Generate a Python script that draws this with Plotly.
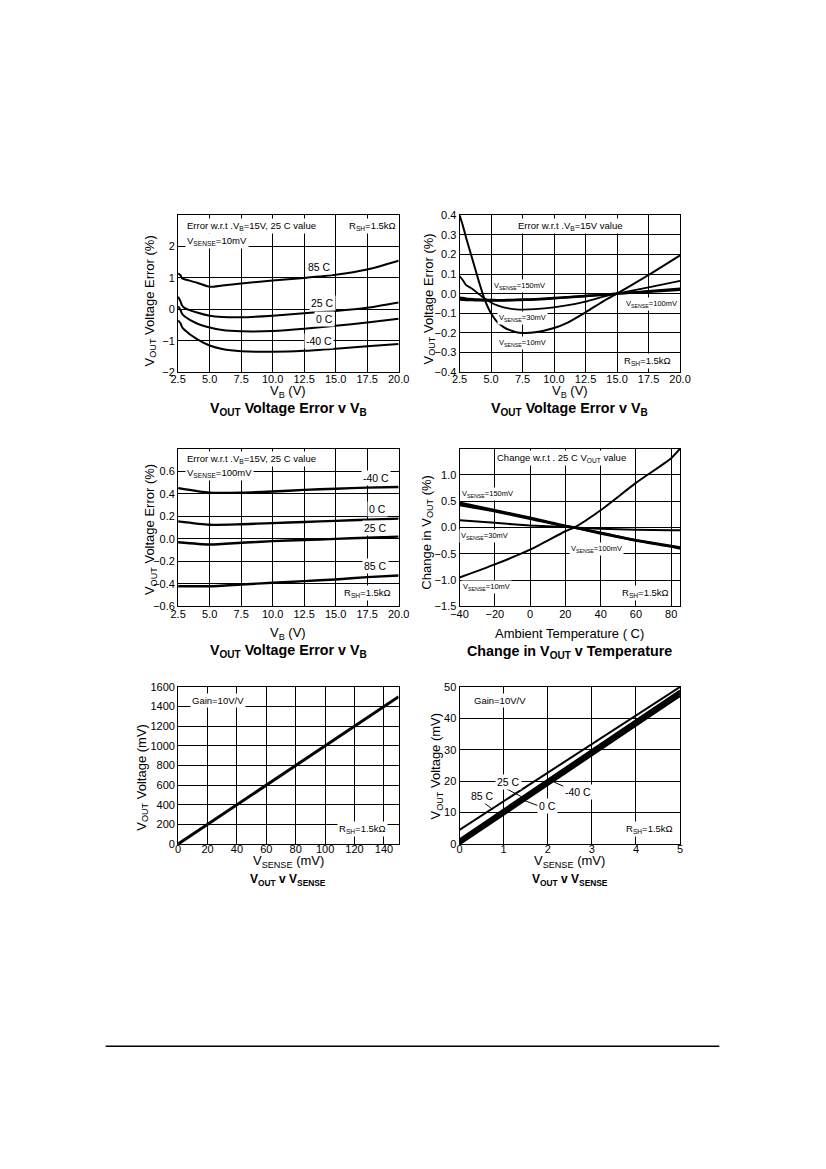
import plotly.graph_objects as go

W, H = 826, 1169
FONT = "Liberation Sans, Arial, sans-serif"

# ---------------- data ----------------
# Plot 1: VOUT error vs VB, VSENSE=10mV
vb1 = [2.5, 2.7, 2.8, 3.0, 4.0, 5.0, 6.0, 7.5, 10.0, 12.5, 15.0, 17.5, 20.0]
p1_85 = [1.15, 1.08, 0.99, 0.96, 0.85, 0.72, 0.76, 0.82, 0.92, 1.00, 1.10, 1.27, 1.55]
p1_25 = [0.40, 0.25, 0.13, 0.05, -0.10, -0.20, -0.24, -0.25, -0.20, -0.12, -0.05, 0.05, 0.22]
p1_0 = [0.10, -0.03, -0.13, -0.22, -0.45, -0.58, -0.66, -0.70, -0.69, -0.62, -0.52, -0.42, -0.30]
p1_m40 = [-0.35, -0.45, -0.55, -0.65, -0.95, -1.15, -1.26, -1.33, -1.35, -1.32, -1.25, -1.17, -1.10]

# Plot 2: VOUT error vs VB for several VSENSE
vb2 = [2.5, 2.75, 3.0, 3.5, 4.0, 4.5, 5.0, 5.5, 6.0, 6.5, 7.0, 7.5, 8.5, 10.0, 11.0, 12.5, 14.0, 15.0, 17.5, 20.0]
p2_10 = [0.40, 0.35, 0.29, 0.18, 0.07, -0.03, -0.10, -0.145, -0.17, -0.186, -0.196, -0.20, -0.197, -0.175, -0.15, -0.095, -0.035, 0.0, 0.095, 0.195]
p2_30 = [0.09, 0.07, 0.045, 0.025, 0.0, -0.025, -0.045, -0.06, -0.07, -0.076, -0.08, -0.081, -0.079, -0.07, -0.06, -0.04, -0.014, 0.0, 0.032, 0.065]
p2_150 = [-0.02, -0.022, -0.025, -0.028, -0.03, -0.031, -0.032, -0.033, -0.033, -0.032, -0.031, -0.03, -0.028, -0.022, -0.018, -0.012, -0.005, 0.0, 0.012, 0.025]
p2_100 = [-0.03, -0.031, -0.032, -0.033, -0.034, -0.035, -0.035, -0.035, -0.035, -0.034, -0.033, -0.032, -0.03, -0.024, -0.019, -0.012, -0.005, 0.0, 0.01, 0.02]

# Plot 3: VOUT error vs VB, VSENSE=100mV
vb3 = [2.5, 5.0, 7.5, 10.0, 12.5, 15.0, 17.5, 20.0]
p3_m40 = [0.45, 0.41, 0.41, 0.42, 0.435, 0.445, 0.455, 0.46]
p3_0 = [0.155, 0.125, 0.13, 0.14, 0.15, 0.16, 0.17, 0.18]
p3_25 = [-0.03, -0.05, -0.035, -0.02, -0.01, 0.0, 0.01, 0.02]
p3_85 = [-0.42, -0.42, -0.405, -0.39, -0.375, -0.36, -0.34, -0.325]

# Plot 4: change in VOUT vs temperature
temp4 = [-40, -20, 0, 20, 25, 40, 60, 80, 85]
p4_10 = [-0.95, -0.70, -0.42, -0.07, 0.0, 0.33, 0.85, 1.32, 1.50]
p4_150 = [0.47, 0.33, 0.185, 0.03, 0.0, -0.11, -0.24, -0.35, -0.38]
p4_100 = [0.43, 0.31, 0.17, 0.025, 0.0, -0.10, -0.245, -0.36, -0.395]
p4_30 = [0.14, 0.09, 0.04, 0.01, 0.0, -0.02, -0.04, -0.05, -0.05]

# Plot 5: VOUT vs VSENSE (0-150mV)
vs5 = [0, 150]
vo5 = [0, 1500]

# Plot 6: VOUT vs VSENSE (0-5mV) by temperature
vs6 = [0, 5]
p6_85 = [4.5, 50.0]
p6_25 = [1.4, 48.8]
p6_0 = [0.7, 48.0]
p6_m40 = [0.0, 47.2]

# tick values
x_vb_ticks = [2.5, 5.0, 7.5, 10.0, 12.5, 15.0, 17.5, 20.0]
y1_ticks = [-2, -1, 0, 1, 2]
y2_ticks = [-0.4, -0.3, -0.2, -0.1, 0.0, 0.1, 0.2, 0.3, 0.4]
y3_ticks = [-0.6, -0.4, -0.2, 0.0, 0.2, 0.4, 0.6]
x4_ticks = [-40, -20, 0, 20, 40, 60, 80]
y4_ticks = [-1.5, -1.0, -0.5, 0.0, 0.5, 1.0]
x5_ticks = [0, 20, 40, 60, 80, 100, 120, 140]
y5_ticks = [0, 200, 400, 600, 800, 1000, 1200, 1400, 1600]
x6_ticks = [0, 1, 2, 3, 4, 5]
y6_ticks = [0, 10, 20, 30, 40, 50]


def px(x):
    return x / W


def py(y):
    return 1 - y / H


fig = go.Figure()


def line(x, y, ax, width=2.0):
    n = "" if ax == 1 else str(ax)
    fig.add_trace(go.Scatter(x=x, y=y, mode="lines", xaxis="x" + n, yaxis="y" + n,
                             line=dict(color="black", width=width, shape="spline", smoothing=0.6),
                             hoverinfo="skip", showlegend=False))


for s in (p1_85, p1_25, p1_0, p1_m40):
    line(vb1, s, 1)
for s, w in ((p2_10, 2.0), (p2_30, 1.8), (p2_150, 2.4), (p2_100, 2.4)):
    line(vb2, s, 2, w)
for s in (p3_m40, p3_0, p3_25, p3_85):
    line(vb3, s, 3, 2.4)
for s, w in ((p4_10, 2.0), (p4_150, 2.6), (p4_100, 2.6), (p4_30, 2.0)):
    line(temp4, s, 4, w)
line(vs5, vo5, 5, 3.0)
for s, w in ((p6_85, 2.0), (p6_25, 2.6), (p6_0, 2.6), (p6_m40, 2.6)):
    line(vs6, s, 6, w)

LX = [173.3 / W, 399.3 / W]
RX = [461.7 / W, 687.7 / W]
R1 = [py(370), py(211.3)]
R2 = [py(606.7), py(447.3)]
R3 = [py(846.7), py(688)]


def axis(domain, anchor, rng, ticks, fmt=None, standoff=0):
    d = dict(domain=domain, anchor=anchor, range=rng, tickvals=ticks,
             showline=True, linecolor="black", linewidth=1, mirror=True,
             showgrid=True, gridcolor="black", gridwidth=1, zeroline=False,
             ticks="", ticklabelstandoff=standoff,
             tickfont=dict(family=FONT, size=11, color="black"), fixedrange=True)
    if fmt:
        d["tickformat"] = fmt
    return d


fig.update_layout(
    width=W, height=H, autosize=False, margin=dict(l=0, r=0, t=0, b=0),
    paper_bgcolor="white", plot_bgcolor="white", showlegend=False,
    font=dict(family=FONT, color="black"),
    xaxis=axis(LX, "y", [2.5, 20], x_vb_ticks, ".1f", -3),
    yaxis=axis(R1, "x", [-2, 3], y1_ticks),
    xaxis2=axis(RX, "y2", [2.5, 20], x_vb_ticks, ".1f", -3),
    yaxis2=axis(R1, "x2", [-0.4, 0.4], y2_ticks, ".1f"),
    xaxis3=axis(LX, "y3", [2.5, 20], x_vb_ticks, ".1f", -3),
    yaxis3=axis(R2, "x3", [-0.6, 0.8], y3_ticks, ".1f"),
    xaxis4=axis(RX, "y4", [-40, 85], x4_ticks, None, -3),
    yaxis4=axis(R2, "x4", [-1.5, 1.5], y4_ticks, ".1f"),
    xaxis5=axis(LX, "y5", [0, 150], x5_ticks, None, -5),
    yaxis5=axis(R3, "x5", [0, 1600], y5_ticks),
    xaxis6=axis(RX, "y6", [0, 5], x6_ticks, None, -5),
    yaxis6=axis(R3, "x6", [0, 50], y6_ticks),
)

ann = []


def note(text, x, y, size=9.5, xanchor="center", bg="white", bold=False, angle=0):
    ann.append(dict(text=("<b>%s</b>" % text) if bold else text, x=px(x), y=py(y),
                    xref="paper", yref="paper", xanchor=xanchor, yanchor="middle",
                    showarrow=False, textangle=angle, bgcolor=bg, borderpad=1,
                    font=dict(family=FONT, size=size, color="black")))


def dnote(text, x, y, ax, size=10.5):
    n = "" if ax == 1 else str(ax)
    ann.append(dict(text=text, x=x, y=y, xref="x" + n, yref="y" + n, showarrow=False,
                    bgcolor="white", borderpad=1,
                    font=dict(family=FONT, size=size, color="black")))


VSENSE = "V<sub>SENSE</sub>"
RSH = "R<sub>SH</sub>=1.5kΩ"
VOUT = "V<sub>OUT</sub>"
lc, rc = 286.3, 574.7
TS = 14.3   # bold chart title size (rows 1-2)

# --- plot 1 ---
note("Error w.r.t .V<sub>B</sub>=15V, 25 C value", 180, 222, xanchor="left")
note(VSENSE + "=10mV", 180.5, 237, xanchor="left")
note(RSH, 346.5, 222, xanchor="left")
dnote("85 C", 13.72, 1.35, 1)
dnote("25 C", 13.98, 0.21, 1)
dnote("0 C", 14.1, -0.32, 1)
dnote("-40 C", 13.67, -1.02, 1)
note(VOUT + " Voltage Error (%)", 145, 298, size=13, angle=-90, bg=None)
note("V<sub>B</sub> (V)", lc, 390, size=13, bg=None)
note(VOUT + " Voltage Error v V<sub>B</sub>", lc, 407, size=TS, bold=True, bg=None)

# --- plot 2 ---
note("Error w.r.t .V<sub>B</sub>=15V value", 575, 222)
note(RSH, 654.7, 358.3)
note(VSENSE + "=150mV", 523.3, 283.3, size=7.5)
note(VSENSE + "=100mV", 658.3, 301, size=7.5)
note(VSENSE + "=30mV", 526.7, 315.7, size=7.5)
note(VSENSE + "=10mV", 526.7, 340.7, size=7.5)
note(VOUT + " Voltage Error (%)", 431, 296, size=13, angle=-90, bg=None)
note("V<sub>B</sub> (V)", rc, 390, size=13, bg=None)
note(VOUT + " Voltage Error v V<sub>B</sub>", rc, 407, size=TS, bold=True, bg=None)

# --- plot 3 ---
note("Error w.r.t .V<sub>B</sub>=15V, 25 C value", 180, 457.3, xanchor="left")
note(VSENSE + "=100mV", 180, 472.3, xanchor="left")
note(RSH, 341.7, 593.3, xanchor="left")
dnote("-40 C", 18.2, 0.54, 3)
dnote("0 C", 18.3, 0.265, 3)
dnote("25 C", 18.2, 0.096, 3)
dnote("85 C", 18.2, -0.245, 3)
note(VOUT + " Voltage Error (%)", 145, 529, size=13, angle=-90, bg=None)
note("V<sub>B</sub> (V)", lc, 634.5, size=13, bg=None)
note(VOUT + " Voltage Error v V<sub>B</sub>", lc, 651.5, size=TS, bold=True, bg=None)

# --- plot 4 ---
note("Change w.r.t . 25 C " + VOUT + " value", 566.7, 456.7)
note(VSENSE + "=150mV", 490, 492.7, size=7.5)
note(VSENSE + "=30mV", 487.7, 535, size=7.5)
note(VSENSE + "=100mV", 601.7, 548.3, size=7.5)
note(VSENSE + "=10mV", 489, 586.7, size=7.5)
note(RSH, 652.3, 593.3)
note("Change in " + VOUT + " (%)", 428.5, 532, size=13, angle=-90, bg=None)
note("Ambient Temperature ( C)", rc, 634.5, size=13, bg=None)
note("Change in " + VOUT + " v Temperature", rc, 652.5, size=TS, bold=True, bg=None)

# --- plot 5 ---
note("Gain=10V/V", 185, 701.7, xanchor="left")
note(RSH, 362.3, 831.7)
note(VOUT + " Voltage (mV)", 136, 779, size=13, angle=-90, bg=None)
note(VSENSE + " (mV)", lc, 864, size=13, bg=None)
note(VOUT + " v " + VSENSE, lc, 883, size=12, bold=True, bg=None)

# --- plot 6 ---
note("Gain=10V/V", 475, 701.7, xanchor="left")
note(RSH, 656.7, 831.7)
dnote("25 C", 1.12, 19.72, 6, size=10.5)
dnote("0 C", 1.99, 12.08, 6, size=10.5)
dnote("-40 C", 2.68, 16.57, 6, size=10.5)
dnote("85 C", 0.52, 15.3, 6, size=10.5)
note(VOUT + " Voltage (mV)", 438, 768, size=13, angle=-90, bg=None)
note(VSENSE + " (mV)", rc, 864, size=13, bg=None)
note(VOUT + " v " + VSENSE, rc, 883, size=12, bold=True, bg=None)

fig.update_layout(annotations=ann)

# leader lines in plot 6 (data coords) and page rule
leaders = [((1.03, 17.83), (1.40, 15.09)), ((1.47, 13.84), (1.77, 12.26)),
           ((2.14, 19.72), (2.36, 18.36)), ((0.56, 13.1), (0.76, 10.9))]
shapes = []
for (x0, y0), (x1, y1) in leaders:
    shapes.append(dict(type="line", xref="x6", yref="y6", x0=x0, y0=y0, x1=x1, y1=y1,
                       line=dict(color="black", width=1)))
shapes.append(dict(type="line", xref="paper", yref="paper", x0=px(99), x1=px(728),
                   y0=py(1051), y1=py(1051), line=dict(color="black", width=1.5)))
fig.update_layout(shapes=shapes)

fig.write_html(
    "out.html",
    config={"displayModeBar": False, "staticPlot": True, "responsive": False},
    post_script=("document.body.style.margin='0px';"
                 "document.body.style.overflow='hidden';"
                 "document.documentElement.style.overflow='hidden';"),
)
